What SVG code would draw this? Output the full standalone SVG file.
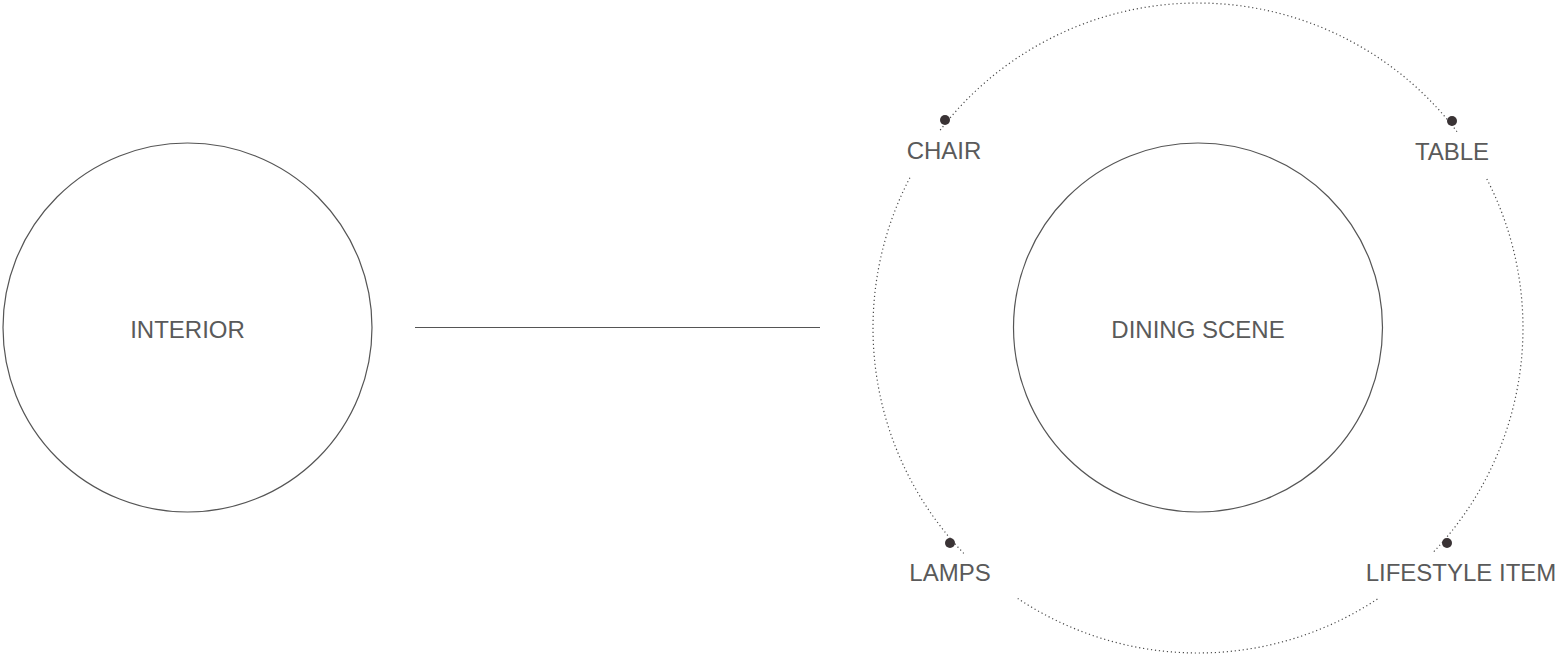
<svg xmlns="http://www.w3.org/2000/svg" width="1560" height="658" viewBox="0 0 1560 658">
<style>
.ring{fill:none;stroke:#555;stroke-width:1.2}
.dotted{fill:none;stroke:#4a4a4a;stroke-width:1.2;stroke-dasharray:1.2 2.8}
.lbl{font-family:"Liberation Sans",Arial,sans-serif;font-size:24px;fill:#5a5a5a;text-anchor:middle}
.pt{fill:#3a3335}
.conn{stroke:#555;stroke-width:1;fill:none}
</style>
<rect width="1560" height="658" fill="#fff"/>
<g id="connectors">
<line class="conn" x1="415" y1="327.5" x2="820" y2="327.5"/>
<path class="dotted" d="M1486.8,179 A325,325 0 0 1 1433,552.5"/>
<path class="dotted" d="M1377.4,599 A325,325 0 0 1 1017.7,598.4"/>
<path class="dotted" d="M963.8,553.4 A325,325 0 0 1 911.1,175.4"/>
<path class="dotted" d="M940.2,130.1 A325,325 0 0 1 1457.9,132.9"/>
</g>
<g id="interior">
<circle class="ring" cx="187.5" cy="327.5" r="184.5"/>
<text class="lbl" x="187.5" y="338">INTERIOR</text>
</g>
<g id="dining-scene">
<circle class="ring" cx="1198" cy="327.5" r="184.5"/>
<text class="lbl" x="1198" y="338">DINING SCENE</text>
</g>
<g id="chair">
<circle class="pt" cx="945" cy="120" r="5"/>
<text class="lbl" x="944" y="159">CHAIR</text>
</g>
<g id="table">
<circle class="pt" cx="1452" cy="121" r="5"/>
<text class="lbl" x="1452" y="160">TABLE</text>
</g>
<g id="lamps">
<circle class="pt" cx="950" cy="543" r="5"/>
<text class="lbl" x="950" y="581">LAMPS</text>
</g>
<g id="lifestyle-item">
<circle class="pt" cx="1447" cy="543" r="5"/>
<text class="lbl" x="1461" y="581">LIFESTYLE ITEM</text>
</g>
</svg>
